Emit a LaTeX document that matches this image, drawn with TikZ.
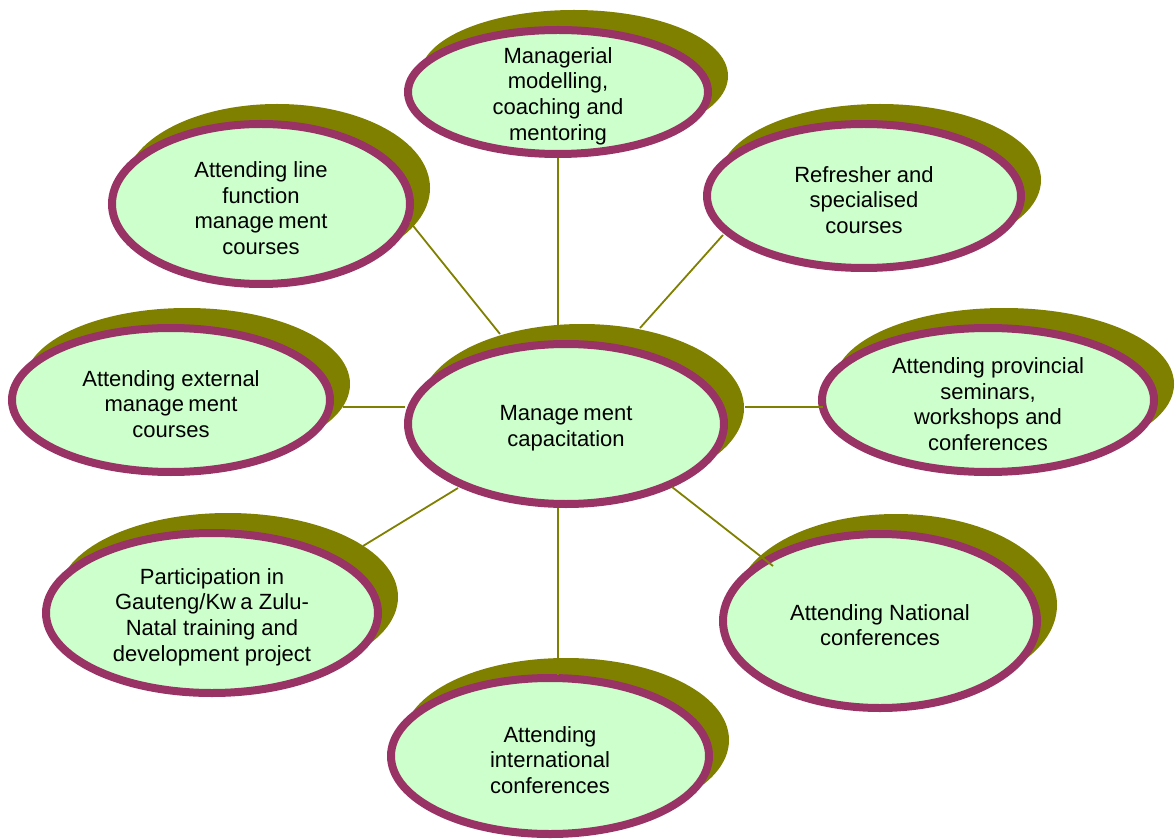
\documentclass[tikz,border=0pt]{standalone}
\usepackage{fontspec}
\setmainfont{Liberation Sans}
\usetikzlibrary{shapes.geometric}
\definecolor{bubfill}{HTML}{CCFFCC}
\definecolor{bubline}{HTML}{993366}
\definecolor{shade}{HTML}{808000}
\newcommand{\gp}{\hspace{0.2em}}
\begin{document}
\begin{tikzpicture}[x=0.5pt,y=-0.5pt,
  shadowbub/.style={ellipse, fill=shade, draw=shade, line width=4pt, inner sep=0pt},
  bubble/.style={ellipse, fill=bubfill, draw=bubline, line width=4pt, inner sep=0pt},
  txt/.style={align=center, font=\fontsize{11}{12.85}\selectfont, inner sep=0pt},
  link/.style={draw=shade, line width=0.9pt}]
\useasboundingbox (0,0) rectangle (1176,839);
\def\bubbles{
 mg/558/92/150/62/{Managerial\\modelling,\\coaching and\\mentoring},
 lf/261/204/149/80/{Attending line\\function\\manage\gp ment\\courses},
 rf/864/196/157/72/{Refresher and\\specialised\\courses},
 ex/171/400/159/72/{Attending external\\manage\gp ment\\courses},
 c/566/424/158/80/{Manage\gp ment\\capacitation},
 pv/988/400/166/72/{Attending provincial\\seminars,\\workshops and\\conferences},
 pa/212/613/166/80/{Participation in\\Gauteng/Kw\gp a Zulu-\\Natal training and\\development project},
 na/880/621/157/87/{Attending National\\conferences},
 in/550/756/159/78/{Attending\\international\\conferences}}
\foreach \n/\x/\y/\w/\h/\t in \bubbles {
  \node[shadowbub, minimum width=\w pt, minimum height=\h pt] (\n-sh) at (\x+16,\y-16) {};
}
\foreach \n/\x/\y/\w/\h/\t in \bubbles {
  \node[bubble, minimum width=\w pt, minimum height=\h pt] (\n) at (\x,\y) {};
  \node[txt] (\n-txt) at (\x,\y+4) {\t};
}
% connector end points
\coordinate (a1) at (558,158); \coordinate (b1) at (558,325);
\coordinate (a2) at (410,222); \coordinate (b2) at (500,334);
\coordinate (a3) at (723,235); \coordinate (b3) at (640,328);
\coordinate (a4) at (343,407); \coordinate (b4) at (405,407);
\coordinate (a5) at (823,407); \coordinate (b5) at (745,407);
\coordinate (a6) at (363,546); \coordinate (b6) at (458,488);
\coordinate (a7) at (773,566); \coordinate (b7) at (672,487);
\coordinate (a8) at (558,675); \coordinate (b8) at (558,508);
\foreach \i in {1,...,8} { \draw[link] (a\i) -- (b\i); }
\end{tikzpicture}
\end{document}
